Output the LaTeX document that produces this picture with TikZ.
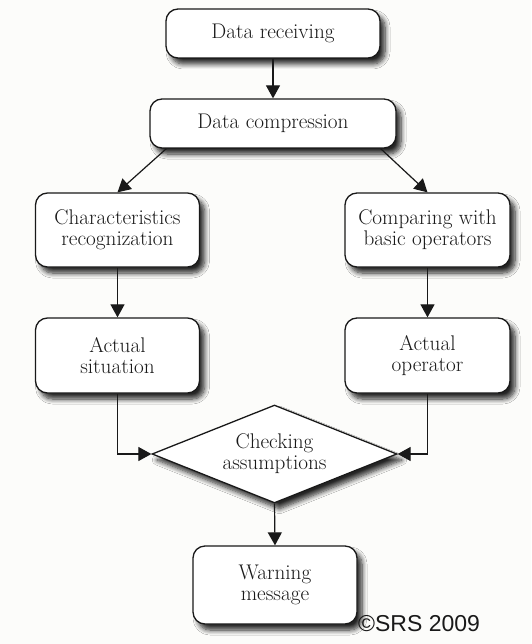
\documentclass[tikz,border=0pt]{standalone}
\usepackage{fontspec}
\newfontfamily\arialf{Liberation Sans}
\usetikzlibrary{shapes.geometric,arrows.meta,shadows.blur}
\definecolor{bgc}{RGB}{252,252,250}
\definecolor{ink}{RGB}{25,25,25}
\tikzset{
  x=1pt,y=1pt,
  box/.style={draw=ink,line width=1.3pt,rounded corners=12pt,fill=white,
    inner sep=0pt,align=center,text=ink,
    font=\fontsize{21.2}{21.3}\selectfont,
    blur shadow={shadow xshift=5pt,shadow yshift=-6pt,shadow blur radius=5pt,shadow blur steps=8,shadow opacity=85}},
  dia/.style={draw=ink,line width=1.3pt,shape=diamond,aspect=2.5,fill=white,
    inner sep=0pt,align=center,text=ink,
    font=\fontsize{21.2}{21.3}\selectfont,
    blur shadow={shadow xshift=5pt,shadow yshift=-6pt,shadow blur radius=5pt,shadow blur steps=8,shadow opacity=85}},
  arr/.style={draw=ink,line width=1.2pt,-{Triangle[length=13pt,width=14pt]}},
  ln/.style={draw=ink,line width=1.2pt}
}
\begin{document}
\begin{tikzpicture}
\fill[bgc] (0,0) rectangle (531,-644);
\useasboundingbox (0,0) rectangle (531,-644);
\node[box,minimum width=214pt,minimum height=49pt] (dr) at (273,-33.5) {Data receiving};
\node[box,minimum width=246pt,minimum height=49pt] (dc) at (273,-123.5) {Data compression};
\node[box,minimum width=164pt,minimum height=74pt] (cr) at (117.5,-230) {Characteristics\\recognization};
\node[box,minimum width=165pt,minimum height=74pt] (cb) at (427.5,-230) {Comparing with\\basic operators};
\node[box,minimum width=164pt,minimum height=75pt] (as) at (117.5,-355.5) {Actual\\situation};
\node[box,minimum width=165pt,minimum height=75pt] (ao) at (427.5,-355.5) {Actual\\operator};
\node[dia,minimum width=245pt,minimum height=98pt] (ca) at (274.5,-454) {Checking\\assumptions};
\node[box,minimum width=164pt,minimum height=78pt] (wm) at (275,-585) {Warning\\message};
\node[anchor=base west,inner sep=0pt,text=ink,font=\arialf\fontsize{23}{26}\selectfont] (cp) at (358,-631) {\textcopyright SRS 2009};
\draw[arr] (dr.south) -- (dc.north);
\draw[arr] (dc.south west) ++(17,0) coordinate (dcl) -- (cr.north);
\draw[arr] (dc.south east) ++(-16,0) coordinate (dcr) -- (cb.north);
\draw[arr] (cr.south) -- (as.north);
\draw[arr] (cb.south) -- (ao.north);
\draw[arr] (as.south) |- (ca.west);
\draw[arr] (ao.south) |- (ca.east);
\draw[arr] (ca.south) -- (wm.north);
\end{tikzpicture}
\end{document}
